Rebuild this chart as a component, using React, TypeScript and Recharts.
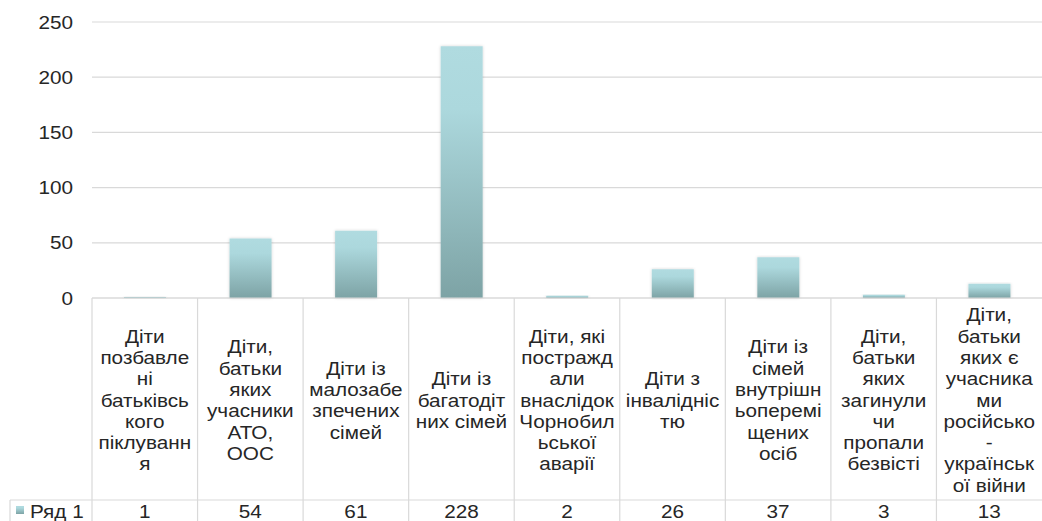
import React from 'react';
import { BarChart, Bar, XAxis, YAxis, CartesianGrid } from 'recharts';

// category labels, already wrapped the way the table cells show them
const categoryLines: string[][] = [
  ['Діти', 'позбавле', 'ні', 'батьківсь', 'кого', 'піклуванн', 'я'],
  ['Діти,', 'батьки', 'яких', 'учасники', 'АТО,', 'ООС'],
  ['Діти із', 'малозабе', 'зпечених', 'сімей'],
  ['Діти із', 'багатодіт', 'них сімей'],
  ['Діти, які', 'постражд', 'али', 'внаслідок', 'Чорнобил', 'ьської', 'аварії'],
  ['Діти з', 'інвалідніс', 'тю'],
  ['Діти із', 'сімей', 'внутрішн', 'ьоперемі', 'щених', 'осіб'],
  ['Діти,', 'батьки', 'яких', 'загинули', 'чи', 'пропали', 'безвісті'],
  ['Діти,', 'батьки', 'яких є', 'учасника', 'ми', 'російсько', '-', 'українськ', 'ої війни'],
];
const values = [1, 54, 61, 228, 2, 26, 37, 3, 13];
const seriesName = 'Ряд 1';
const yTicks = [0, 50, 100, 150, 200, 250];

const W = 1042;
const H = 521;
const PLOT_LEFT = 92;
const PLOT_TOP = 22;
const TABLE_TOP = 298;
const VALUE_ROW_TOP = 500;
const COL_W = (W - PLOT_LEFT) / values.length;
const LINE_H = 21.3;
const FONT = '"Liberation Sans", Arial, sans-serif';
const TEXT = '#262626';
const LINE = '#d9d9d9';
const STRETCH = 1.12;

const data = values.map((v, i) => ({ idx: i, value: v }));

const Label = ({ x, y, children, anchor = 'middle' }: any) => (
  <text
    x={0}
    y={0}
    transform={`translate(${x},${y}) scale(${STRETCH},1)`}
    textAnchor={anchor}
    dominantBaseline="central"
    fontFamily={FONT}
    fontSize={18.5}
    fill={TEXT}
  >
    {children}
  </text>
);

const TableTick = (props: any) => {
  const { x, payload } = props;
  const i = payload.index ?? payload.value;
  const lines = categoryLines[i];
  const mid = (TABLE_TOP + VALUE_ROW_TOP) / 2 + 1;
  const startY = mid - ((lines.length - 1) * LINE_H) / 2;
  return (
    <g>
      <line x1={x - COL_W / 2} x2={x - COL_W / 2} y1={TABLE_TOP} y2={H} stroke={LINE} strokeWidth={1.2} />
      {lines.map((t, k) => (
        <Label key={k} x={x} y={startY + k * LINE_H}>
          {t}
        </Label>
      ))}
      <Label x={x} y={511}>
        {values[i]}
      </Label>
      {i === 0 && (
        <g>
          <line x1={10} x2={W} y1={VALUE_ROW_TOP} y2={VALUE_ROW_TOP} stroke={LINE} strokeWidth={1.2} />
          <line x1={10} x2={10} y1={VALUE_ROW_TOP} y2={H} stroke={LINE} strokeWidth={1.2} />
          <rect x={16} y={506} width={8} height={8} fill="url(#barFill)" />
          <Label x={30} y={511} anchor="start">
            {seriesName}
          </Label>
        </g>
      )}
    </g>
  );
};

const YTick = (props: any) => {
  const { x, y, payload } = props;
  return (
    <Label x={x} y={y} anchor="end">
      {payload.value}
    </Label>
  );
};

const App: React.FC = () => {
  return (
    <div style={{ position: 'absolute', left: 0, top: 0, width: W, height: H, background: '#fff' }}>
      <BarChart
        width={W}
        height={H}
        data={data}
        margin={{ top: PLOT_TOP, right: 0, left: 0, bottom: 0 }}
      >
        <defs>
          <linearGradient id="barFill" x1="0" y1="0" x2="0" y2="1">
            <stop offset="0%" stopColor="#b0dbe0" />
            <stop offset="25%" stopColor="#acd8dd" />
            <stop offset="100%" stopColor="#7da3a5" />
          </linearGradient>
          <filter id="barShadow" x="-20%" y="-5%" width="140%" height="110%">
            <feDropShadow dx="0" dy="0" stdDeviation="1.5" floodColor="#000" floodOpacity="0.18" />
          </filter>
        </defs>
        <CartesianGrid vertical={false} stroke={LINE} strokeWidth={1.2} />
        <XAxis
          dataKey="idx"
          type="category"
          interval={0}
          height={H - TABLE_TOP}
          tickLine={false}
          tickSize={0}
          axisLine={{ stroke: LINE, strokeWidth: 1.2 }}
          tick={<TableTick />}
        />
        <YAxis
          width={PLOT_LEFT}
          domain={[0, 250]}
          ticks={yTicks}
          axisLine={false}
          tickLine={false}
          tickSize={0}
          tickMargin={19}
          tick={<YTick />}
        />
        <Bar
          dataKey="value"
          barSize={42}
          fill="url(#barFill)"
          filter="url(#barShadow)"
          isAnimationActive={false}
        />
      </BarChart>
    </div>
  );
};

export default App;
